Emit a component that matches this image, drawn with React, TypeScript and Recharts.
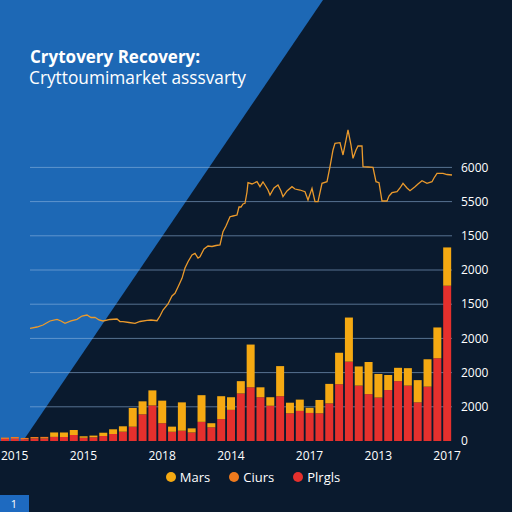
import React from 'react';
import { BarChart, Bar, XAxis, YAxis, CartesianGrid, Legend, LineChart, Line } from 'recharts';

// ---- Data ----
const redValues = [60, 70, 50, 70, 70, 120, 120, 175, 94, 108, 146, 205, 272, 418, 780, 1040, 520, 270, 300, 250, 560, 400, 640, 910, 1390, 1570, 1280, 1030, 1310, 810, 880, 820, 810, 1100, 1660, 2320, 1620, 1370, 1270, 1490, 1750, 1620, 1130, 1590, 2420, 4540];
const orangeValues = [40, 50, 40, 50, 50, 0, 0, 0, 0, 0, 0, 0, 0, 0, 0, 0, 0, 0, 0, 0, 0, 0, 0, 0, 0, 0, 0, 0, 0, 0, 0, 0, 0, 0, 0, 0, 0, 0, 0, 0, 0, 0, 0, 0, 0, 0];
const goldValues = [0, 0, 0, 0, 0, 130, 126, 146, 44, 50, 96, 137, 158, 547, 380, 440, 660, 150, 830, 120, 780, 120, 670, 370, 360, 1250, 290, 250, 880, 310, 330, 150, 390, 570, 920, 1290, 560, 940, 690, 440, 390, 510, 650, 800, 900, 1120];
const periods = redValues.map((_, i) => `P${i + 1}`);

const lineT = [0, 7, 13, 20, 27, 31, 35, 41, 47, 52, 57, 61, 65, 69, 73, 80, 87, 90, 93, 99, 105, 110, 117, 121, 127, 130, 133, 138, 142, 145, 148, 152, 155, 158, 162, 165, 168, 170, 174, 178, 182, 186, 190, 193, 196, 200, 203, 207, 209, 211, 213, 215, 217, 218, 222, 227, 230, 233, 235, 238, 240, 244, 248, 251, 253, 257, 262, 265, 270, 275, 278, 282, 285, 288, 292, 297, 300, 303, 305, 310, 313, 316, 318, 321, 323, 326, 328, 332, 333, 338, 343, 346, 349, 352, 357, 359, 362, 367, 370, 373, 377, 380, 385, 388, 392, 397, 402, 404, 407, 413, 417, 422];
const lineV = [3295, 3333, 3392, 3509, 3558, 3509, 3441, 3509, 3558, 3655, 3684, 3611, 3617, 3538, 3509, 3553, 3567, 3494, 3488, 3465, 3441, 3494, 3529, 3538, 3518, 3655, 3830, 4006, 4240, 4319, 4503, 4757, 5058, 5243, 5439, 5488, 5351, 5389, 5614, 5702, 5687, 5716, 5731, 6120, 6287, 6558, 6579, 6608, 6842, 6842, 6930, 6950, 7281, 7553, 7515, 7582, 7436, 7573, 7485, 7339, 7193, 7398, 7485, 7310, 7143, 7310, 7436, 7368, 7339, 7289, 7047, 7389, 6997, 6997, 7535, 7582, 8020, 8509, 8705, 8722, 8363, 8801, 9094, 8655, 8266, 8509, 8626, 8626, 8020, 8012, 8003, 7582, 7553, 7018, 7018, 7164, 7260, 7289, 7398, 7535, 7398, 7319, 7436, 7515, 7611, 7535, 7582, 7690, 7827, 7827, 7792, 7778];

const yTicks = [0, 1000, 2000, 3000, 4000, 5000, 6000, 7000, 8000];
const yTickLabels = ['0', '2000', '2000', '2000', '1500', '2000', '1500', '5500', '6000'];
const yearTickPeriods = ['P2', 'P9', 'P17', 'P24', 'P32', 'P39', 'P46'];
const yearLabels = ['2015', '2015', '2018', '2014', '2017', '2013', '2017'];
const legendOrder = ['Mars', 'Ciurs', 'Plrgls'];

const barData = periods.map((p, i) => ({ period: p, red: redValues[i], orange: orangeValues[i], gold: goldValues[i] }));
const lineData = lineT.map((t, i) => ({ t, v: lineV[i] }));

const FONT = '"Open Sans", "DejaVu Sans", sans-serif';
const DARK = '#0a1a2e';
const BLUE = '#1d68b5';
const GOLD = '#f5a912';
const ORANGE = '#ef7a1d';
const RED = '#e5302d';

const renderGridLine = (props: any) => {
  if (props.y1 > 436 || props.y1 < 120) return <g key={props.key} />;
  return (
    <line key={props.key} x1={props.x1 + 30} x2={props.x2} y1={props.y1} y2={props.y2}
      stroke="rgba(150,185,225,0.55)" strokeWidth={1} />
  );
};

const renderLegend = (props: any) => {
  const items = [...(props.payload || [])].sort(
    (a: any, b: any) => legendOrder.indexOf(a.value) - legendOrder.indexOf(b.value)
  );
  return (
    <div style={{ display: 'flex', justifyContent: 'center', gap: 19, paddingRight: 6, fontFamily: FONT, fontSize: 13, color: '#ffffff', lineHeight: '18px' }}>
      {items.map((it: any) => (
        <span key={it.value} style={{ display: 'flex', alignItems: 'center' }}>
          <span style={{ width: 10, height: 10, borderRadius: 5, background: it.color, display: 'inline-block', marginRight: 4 }} />
          {it.value}
        </span>
      ))}
    </div>
  );
};

export default function App() {
  return (
    <div style={{ position: 'absolute', left: 0, top: 0, width: 512, height: 512, overflow: 'hidden', background: DARK }}>
      <svg width={512} height={512} style={{ position: 'absolute', left: 0, top: 0 }}>
        <rect x={0} y={0} width={512} height={512} fill={DARK} />
        <polygon points="0,0 323,0 23,441 0,441" fill={BLUE} />
        <rect x={0} y={495} width={29} height={17} fill="#1e6ac0" />
        <text x={14} y={508} fill="#fff" fontSize={11} fontFamily={FONT} textAnchor="middle">1</text>
      </svg>
      <div style={{ position: 'absolute', left: 30, top: 48, height: 18, fontFamily: FONT, fontSize: 17, fontWeight: 700, color: '#fff', lineHeight: '18px', whiteSpace: 'nowrap' }}>
        Crytovery Recovery:
      </div>
      <div style={{ position: 'absolute', left: 29, top: 69, height: 18, fontFamily: FONT, fontSize: 17.3, color: '#fff', lineHeight: '18px', whiteSpace: 'nowrap' }}>
        Cryttoumimarket asssvarty
      </div>
      <div style={{ position: 'absolute', left: 0, top: 0 }}>
        <BarChart width={512} height={512} data={barData} margin={{ top: 99, right: 0, bottom: 41, left: 0 }} barCategoryGap={1}>
          <CartesianGrid vertical={false} horizontal={renderGridLine} />
          <XAxis dataKey="period" height={30} ticks={yearTickPeriods} interval={0}
            axisLine={false} tickLine={false} tickMargin={4}
            tickFormatter={(v: string) => yearLabels[yearTickPeriods.indexOf(v)]}
            tick={{ fill: '#ffffff', fontSize: 12, fontFamily: FONT }} />
          <YAxis orientation="right" width={60} domain={[0, 10000]} ticks={yTicks} interval={0}
            axisLine={false} tickLine={false} tickMargin={3}
            tickFormatter={(v: number) => yTickLabels[yTicks.indexOf(v)]}
            tick={{ fill: '#ffffff', fontSize: 12, fontFamily: FONT }} />
          <Bar dataKey="red" name="Plrgls" stackId="s" fill={RED} isAnimationActive={false} />
          <Bar dataKey="orange" name="Ciurs" stackId="s" fill={ORANGE} isAnimationActive={false} />
          <Bar dataKey="gold" name="Mars" stackId="s" fill={GOLD} isAnimationActive={false} />
          <Legend layout="horizontal" verticalAlign="middle" align="center" content={renderLegend}
            wrapperStyle={{ top: 468, left: 0, width: 512 }} />
        </BarChart>
      </div>
      <div style={{ position: 'absolute', left: 0, top: 0 }}>
        <LineChart width={512} height={512} data={lineData} margin={{ top: 99, right: 60, bottom: 71, left: 30 }}>
          <XAxis dataKey="t" type="number" domain={[0, 422]} hide />
          <YAxis domain={[0, 10000]} hide />
          <Line type="linear" dataKey="v" stroke="#eb9a2c" strokeWidth={1.3} dot={false} isAnimationActive={false} />
        </LineChart>
      </div>
    </div>
  );
}
